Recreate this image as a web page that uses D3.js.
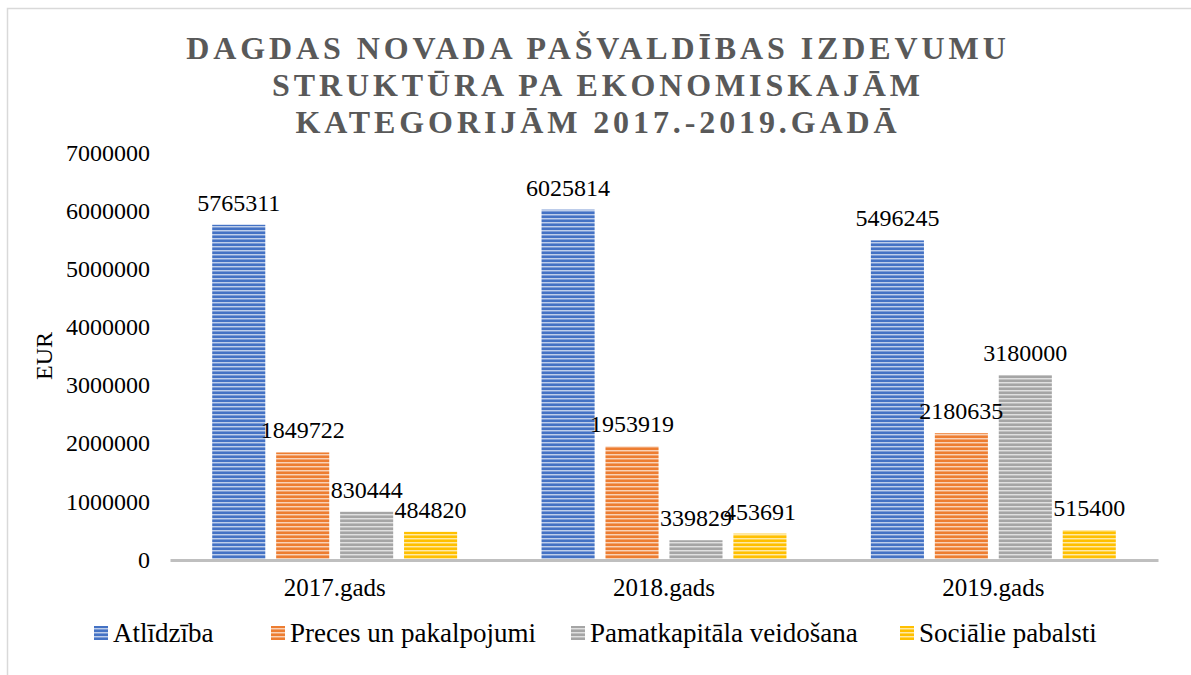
<!DOCTYPE html>
<html>
<head>
<meta charset="utf-8">
<script src="https://cdn.jsdelivr.net/npm/d3@7"></script>
<style>
  html, body { margin: 0; padding: 0; background: #fff; }
  svg { display: block; }
</style>
</head>
<body>
<svg id="chart" width="1191" height="675"></svg>
<script>
const categories = ["2017.gads", "2018.gads", "2019.gads"];
const seriesNames = ["Atlīdzība", "Preces un pakalpojumi", "Pamatkapitāla veidošana", "Sociālie pabalsti"];
const atlidziba = [5765311, 6025814, 5496245];
const preces = [1849722, 1953919, 2180635];
const pamatkapitals = [830444, 339829, 3180000];
const socialie = [484820, 453691, 515400];
const yTicks = [0, 1000000, 2000000, 3000000, 4000000, 5000000, 6000000, 7000000];
const titleLines = ["DAGDAS NOVADA PAŠVALDĪBAS IZDEVUMU", "STRUKTŪRA PA EKONOMISKAJĀM", "KATEGORIJĀM 2017.-2019.GADĀ"];
const yTitle = "EUR";
const colors = ["#4472C4", "#ED7D31", "#A5A5A5", "#FFC000"];

const seriesValues = [atlidziba, preces, pamatkapitals, socialie];
const FONT = '"Liberation Serif", "Times New Roman", "DejaVu Serif", serif';

const svg = d3.select("#chart");
const W = 1191, H = 675;

// frame
svg.append("rect").attr("x", 7.5).attr("y", 8.5).attr("width", W + 10).attr("height", H + 10)
  .attr("fill", "none").attr("stroke", "#d9d9d9").attr("stroke-width", 1.5);

// patterns
const defs = svg.append("defs");
colors.forEach((c, i) => {
  const p = defs.append("pattern").attr("id", "pat" + i).attr("patternUnits", "userSpaceOnUse")
    .attr("width", 8).attr("height", 4);
  const light = d3.interpolateRgb(c, "#ffffff")(0.65);
  const mid = d3.interpolateRgb(c, "#ffffff")(0.3);
  p.append("rect").attr("width", 8).attr("height", 4).attr("fill", c);
  p.append("rect").attr("y", 2).attr("width", 8).attr("height", 1).attr("fill", light);
  p.append("rect").attr("y", 3).attr("width", 8).attr("height", 1).attr("fill", mid);
});

const plotL = 170, plotR = 1158, plotT = 153, plotB = 560;

const y = d3.scaleLinear().domain([0, 7000000]).range([plotB, plotT]);
const x0 = d3.scaleBand().domain(categories).range([plotL, plotR]).paddingInner(0).paddingOuter(0);
const x1 = d3.scaleBand().domain(seriesNames).range([0, x0.bandwidth()]).paddingInner(0.17).paddingOuter(0.66);

// title
const title = svg.append("text").attr("text-anchor", "middle").attr("fill", "#595959")
  .attr("font-family", FONT)
  .attr("font-weight", "bold").attr("font-size", 32).attr("letter-spacing", 3.9);
titleLines.forEach((t, i) => {
  title.append("tspan").attr("x", 598).attr("y", 59 + i * 37).text(t);
});

// y axis (labels only)
const yAxis = d3.axisLeft(y).tickValues(yTicks).tickSize(0).tickPadding(0).tickFormat(d3.format("d"));
const gy = svg.append("g").attr("transform", `translate(${150},0)`).call(yAxis);
gy.attr("font-family", FONT);
gy.select(".domain").remove();
gy.selectAll("text").attr("font-size", 24).attr("fill", "#000").attr("dy", "0.3em");

// y title
svg.append("text").attr("transform", `translate(${52},${356}) rotate(-90)`)
  .attr("font-family", FONT)
  .attr("text-anchor", "middle").attr("font-size", 24).attr("fill", "#000").text(yTitle);

// bars
const groups = svg.append("g").attr("font-family", FONT).selectAll("g").data(categories).join("g")
  .attr("transform", d => `translate(${x0(d)},0)`);

groups.each(function(cat, ci) {
  const g = d3.select(this);
  const data = seriesNames.map((s, si) => ({ s, si, v: seriesValues[si][ci] }));
  g.selectAll("rect").data(data).join("rect")
    .attr("x", d => x1(d.s)).attr("width", x1.bandwidth())
    .attr("y", d => y(d.v)).attr("height", d => plotB - y(d.v))
    .attr("fill", d => `url(#pat${d.si})`);
  g.selectAll("text.lbl").data(data).join("text").attr("class", "lbl")
    .attr("x", d => x1(d.s) + x1.bandwidth() / 2)
    .attr("y", d => y(d.v) - 14)
    .attr("text-anchor", "middle").attr("font-size", 24).attr("fill", "#000")
    .text(d => d.v);
});

// x axis
const xAxis = d3.axisBottom(x0).tickSize(0).tickPadding(0);
const gx = svg.append("g").attr("transform", `translate(0,${plotB})`).call(xAxis);
gx.attr("font-family", FONT);
gx.select(".domain").attr("stroke", "#bfbfbf").attr("stroke-width", 3);
gx.selectAll("text").attr("font-size", 25).attr("fill", "#000").attr("dy", "1.45em");

// legend
const legendX = [94, 271, 571, 900];
const lg = svg.append("g").attr("font-family", FONT).selectAll("g").data(seriesNames).join("g")
  .attr("transform", (d, i) => `translate(${legendX[i]},${626})`);
lg.append("rect").attr("width", 14).attr("height", 14).attr("fill", (d, i) => `url(#pat${i})`);
lg.append("text").attr("x", 19).attr("y", 16).attr("font-size", 27).attr("fill", "#000").text(d => d);
</script>
</body>
</html>
